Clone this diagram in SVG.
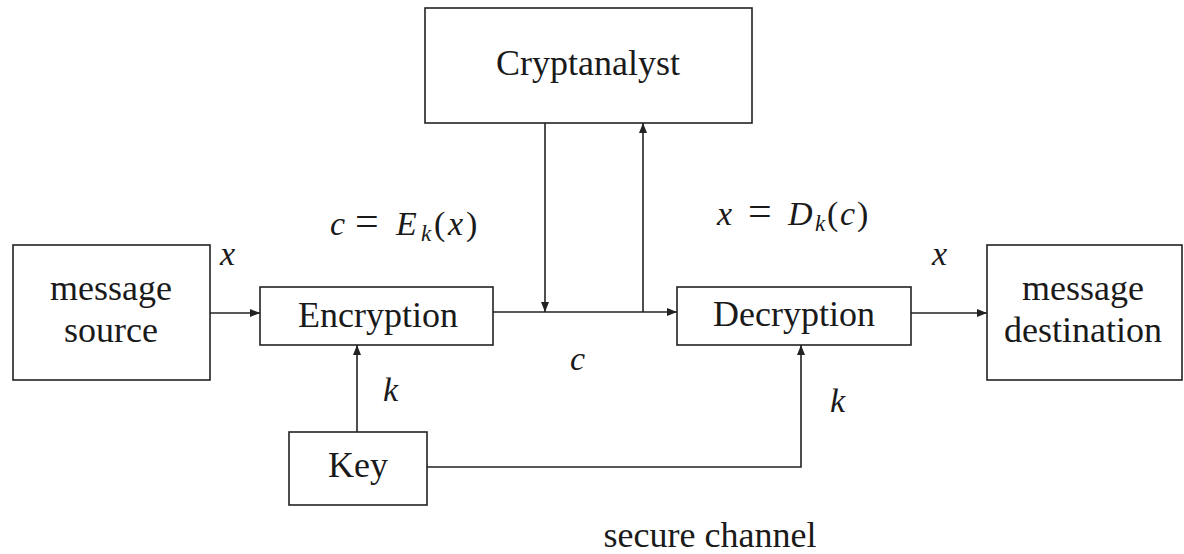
<svg xmlns="http://www.w3.org/2000/svg" width="1184" height="554" viewBox="0 0 1184 554">
  <style>
    .box { fill: #ffffff; stroke: #222222; stroke-width: 1.6; }
    .wire { fill: none; stroke: #222222; stroke-width: 1.6; }
    .lbl { font-family: "Liberation Serif", "Times New Roman", serif; font-size: 36px; fill: #1a1a1a; text-anchor: middle; }
    .math { font-family: "Liberation Serif", "Times New Roman", serif; font-size: 34px; fill: #1a1a1a; }
    .it { font-style: italic; }
    .sub { font-style: italic; font-size: 23px; }
    .eq { font-size: 42px; }
  </style>
  <defs>
    <marker id="arrow" viewBox="0 0 10 8" refX="10" refY="4" markerWidth="10" markerHeight="8" markerUnits="userSpaceOnUse" orient="auto">
      <path d="M0,0 L10,4 L0,8 z" fill="#222222"/>
    </marker>
  </defs>
  <rect width="1184" height="554" fill="#ffffff"/>

  <!-- connectors -->
  <g id="connectors">
    <line class="wire" x1="210" y1="313" x2="260" y2="313" marker-end="url(#arrow)"/>
    <line class="wire" x1="493" y1="312" x2="677" y2="312" marker-end="url(#arrow)"/>
    <line class="wire" x1="545" y1="123" x2="545" y2="312" marker-end="url(#arrow)"/>
    <line class="wire" x1="643" y1="312" x2="643" y2="123" marker-end="url(#arrow)"/>
    <line class="wire" x1="911" y1="313" x2="987" y2="313" marker-end="url(#arrow)"/>
    <line class="wire" x1="357" y1="432" x2="357" y2="345" marker-end="url(#arrow)"/>
    <polyline class="wire" points="427,467 801,467 801,345" marker-end="url(#arrow)"/>
  </g>

  <!-- nodes -->
  <g id="source">
    <rect class="box" x="13" y="245" width="197" height="135"/>
    <text class="lbl" x="111" y="300">message</text>
    <text class="lbl" x="111" y="342">source</text>
  </g>
  <g id="encryption">
    <rect class="box" x="260" y="287" width="233" height="58"/>
    <text class="lbl" x="378" y="327">Encryption</text>
  </g>
  <g id="cryptanalyst">
    <rect class="box" x="425" y="8" width="327" height="115"/>
    <text class="lbl" x="588" y="75">Cryptanalyst</text>
  </g>
  <g id="decryption">
    <rect class="box" x="677" y="287" width="234" height="58"/>
    <text class="lbl" x="794" y="326">Decryption</text>
  </g>
  <g id="destination">
    <rect class="box" x="987" y="245" width="195" height="135"/>
    <text class="lbl" x="1083" y="300">message</text>
    <text class="lbl" x="1083" y="342">destination</text>
  </g>
  <g id="key">
    <rect class="box" x="289" y="432" width="138" height="73"/>
    <text class="lbl" x="358" y="477">Key</text>
  </g>

  <!-- labels -->
  <g id="labels">
    <text class="math it" x="220" y="265">x</text>
    <text class="math it" x="932" y="265">x</text>
    <text class="math" y="235"><tspan class="it" x="330">c</tspan><tspan class="eq" x="355">=</tspan><tspan class="it" x="396">E</tspan><tspan class="sub" x="421" dy="6">k</tspan><tspan x="434" dy="-6">(</tspan><tspan class="it" x="448">x</tspan><tspan x="466">)</tspan></text>
    <text class="math" y="225"><tspan class="it" x="717">x</tspan><tspan class="eq" x="748">=</tspan><tspan class="it" x="788">D</tspan><tspan class="sub" x="815" dy="6">k</tspan><tspan x="827" dy="-6">(</tspan><tspan class="it" x="840">c</tspan><tspan x="857">)</tspan></text>
    <text class="math it" x="570" y="370">c</text>
    <text class="math it" x="383" y="401">k</text>
    <text class="math it" x="830" y="412">k</text>
    <text class="lbl" x="710" y="547">secure channel</text>
  </g>
</svg>
